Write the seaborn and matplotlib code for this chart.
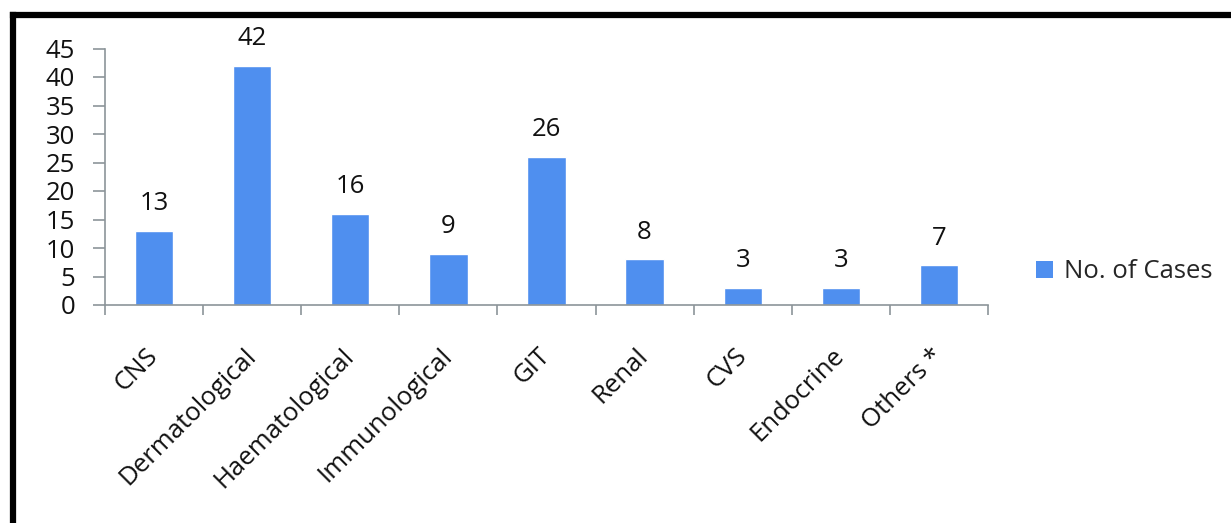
import matplotlib
matplotlib.use("Agg")
import matplotlib.pyplot as plt
import seaborn as sns
import pandas as pd
from matplotlib.lines import Line2D
from matplotlib.patches import Patch

categories = ["CNS", "Dermatological", "Haematological", "Immunological", "GIT",
              "Renal", "CVS", "Endocrine", "Others *"]
cases = [13, 42, 16, 9, 26, 8, 3, 3, 7]
series_name = "No. of Cases"
yticks = [0, 5, 10, 15, 20, 25, 30, 35, 40, 45]

sns.set_theme(style="white")
plt.rcParams["font.family"] = ["Open Sans", "DejaVu Sans"]

bar_color = "#4F8FEF"
axis_gray = "#8C9599"
fs = 18.5

df = pd.DataFrame({"category": categories, "cases": cases})

fig = plt.figure(figsize=(12.31, 5.23), dpi=100)
ax = fig.add_axes([105 / 1231, 1 - 305 / 523, (988 - 105) / 1231, (305 - 48.5) / 523])

sns.barplot(data=df, x="category", y="cases", color=bar_color, width=0.39,
            saturation=1, ax=ax)

ax.set_ylim(0, 45)
ax.set_xlim(-0.5, len(categories) - 0.5)
ax.set_yticks(yticks)
ax.set_yticklabels([str(v) for v in yticks], fontsize=fs, color="#111111")
ax.set_xlabel("")
ax.set_ylabel("")

for s in ["top", "right"]:
    ax.spines[s].set_visible(False)
for s in ["left", "bottom"]:
    ax.spines[s].set_color(axis_gray)
    ax.spines[s].set_linewidth(1.2)

ax.tick_params(axis="y", which="major", left=True, length=8.5, width=1.2,
               color=axis_gray, pad=13, direction="out")

# category labels (major ticks hidden) and separators (minor ticks)
ax.set_xticks(range(len(categories)))
ax.set_xticklabels(categories, rotation=45, ha="right", rotation_mode="anchor",
                   fontsize=fs, color="#111111")
ax.tick_params(axis="x", which="major", bottom=False, length=0, pad=34)
ax.set_xticks([i - 0.5 for i in range(len(categories) + 1)], minor=True)
ax.tick_params(axis="x", which="minor", bottom=True, length=7.5, width=1.2,
               color=axis_gray, direction="out")
for lab in ax.get_xticklabels():
    lab.set_verticalalignment("center")

# value labels
for i, v in enumerate(cases):
    ax.annotate(str(v), (i, v), xytext=(0, 19.5), textcoords="offset points",
                ha="center", va="center", fontsize=fs, color="#111111")

# legend
handles = [Patch(facecolor=bar_color, edgecolor="none", label=series_name)]
fig.legend(handles=handles, loc="center left", bbox_to_anchor=(1036 / 1231, 1 - 272 / 523),
           frameon=False, fontsize=fs, handlelength=0.65, handleheight=0.65,
           handletextpad=0.45, borderpad=0, borderaxespad=0)

# black frame (left and top edges, cropped on right/bottom)
x0 = 13 / 1231
y0 = 1 - 15 / 523
fig.add_artist(Line2D([x0, x0], [0, y0], transform=fig.transFigure, color="black",
                      linewidth=4.5, solid_capstyle="projecting"))
fig.add_artist(Line2D([x0, 1], [y0, y0], transform=fig.transFigure, color="black",
                      linewidth=4.5, solid_capstyle="projecting"))

fig.savefig("out.png", dpi=100, facecolor="white")
